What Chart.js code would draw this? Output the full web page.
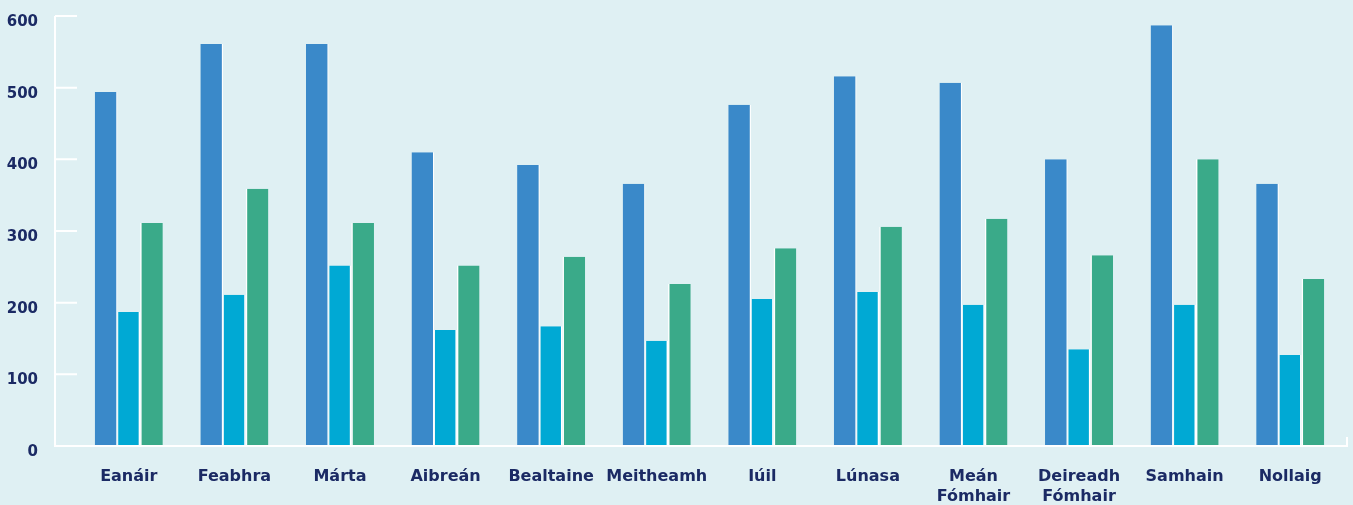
<!DOCTYPE html>
<html>
<head>
<meta charset="utf-8">
<script src="https://cdn.jsdelivr.net/npm/chart.js@4.4.1/dist/chart.umd.min.js"></script>
<style>
  html, body { margin: 0; padding: 0; background: #dff0f3; }
  #wrap { width: 1353px; height: 505px; position: relative; }
</style>
</head>
<body>
<div id="wrap"><canvas id="c"></canvas></div>
<script>
const categories = ["Eanáir", "Feabhra", "Márta", "Aibreán", "Bealtaine", "Meitheamh", "Iúil", "Lúnasa", ["Meán", "Fómhair"], ["Deireadh", "Fómhair"], "Samhain", "Nollaig"];
const seriesA = [494, 561, 561, 410, 392, 366, 476, 516, 507, 400, 587, 366];
const seriesB = [187, 211, 252, 162, 167, 147, 205, 215, 197, 135, 197, 127];
const seriesC = [311, 359, 311, 252, 264, 226, 276, 306, 317, 266, 400, 233];
const yTicks = [0, 100, 200, 300, 400, 500, 600];

const NAVY = '#1b2a64';

const axesPlugin = {
  id: 'axesPlugin',
  beforeDraw(chart) {
    const ctx = chart.ctx;
    ctx.save();
    ctx.fillStyle = '#dff0f3';
    ctx.fillRect(0, 0, chart.width, chart.height);
    ctx.restore();
  },
  afterDatasetsDraw(chart) {
    const ctx = chart.ctx;
    const y = chart.scales.y;
    const area = chart.chartArea;
    const axisX = area.left - 21;
    const bottom = y.getPixelForValue(0);
    const top = y.getPixelForValue(yTicks[yTicks.length - 1]);
    ctx.save();
    ctx.strokeStyle = '#ffffff';
    ctx.lineWidth = 2;
    ctx.beginPath();
    ctx.moveTo(axisX, top);
    ctx.lineTo(axisX, bottom);
    ctx.lineTo(area.right + 4, bottom);
    ctx.lineTo(area.right + 4, bottom - 9);
    ctx.stroke();
    ctx.beginPath();
    yTicks.forEach(v => {
      if (v === 0) return;
      const py = y.getPixelForValue(v);
      ctx.moveTo(axisX, py);
      ctx.lineTo(axisX + 22, py);
    });
    ctx.stroke();
    ctx.restore();
  }
};

const ds = (label, data, color, bw) => ({
  label, data,
  backgroundColor: color,
  borderColor: '#ffffff',
  borderWidth: Object.assign({left: 0, right: 0, top: 0, bottom: 0}, bw),
  borderSkipped: false,
  categoryPercentage: 0.6445,
  barPercentage: 1.0
});

new Chart(document.getElementById('c'), {
  type: 'bar',
  data: {
    labels: categories,
    datasets: [
      ds('A', seriesA, '#3a89c9', {right: 1.2}),
      ds('B', seriesB, '#00a9d4', {left: 0.8, right: 1.5}),
      ds('C', seriesC, '#3aaa89', {left: 1.5})
    ]
  },
  options: {
    responsive: true,
    maintainAspectRatio: false,
    animation: false,
    layout: { padding: { top: 16, right: 10, left: 0, bottom: 0 } },
    plugins: { legend: { display: false }, tooltip: { enabled: false } },
    scales: {
      x: {
        grid: { display: false, drawTicks: false },
        border: { display: false },
        ticks: {
          color: NAVY,
          font: { family: 'DejaVu Sans', size: 16, weight: 'bold', lineHeight: 1.3 },
          padding: 20,
          maxRotation: 0,
          autoSkip: false
        },
        afterFit(scale) { scale.height = 59; scale.paddingLeft = 0; scale.paddingRight = 0; }
      },
      y: {
        min: 0, max: 600,
        grid: { display: false, drawTicks: false },
        border: { display: false },
        ticks: {
          stepSize: 100,
          color: NAVY,
          font: { family: 'DejaVu Sans', size: 15, weight: 'bold' },
          padding: 38,
          labelOffset: 6
        },
        afterFit(scale) { scale.width = 76; scale.paddingTop = 0; scale.paddingBottom = 0; }
      }
    }
  },
  plugins: [axesPlugin]
});
</script>
</body>
</html>
